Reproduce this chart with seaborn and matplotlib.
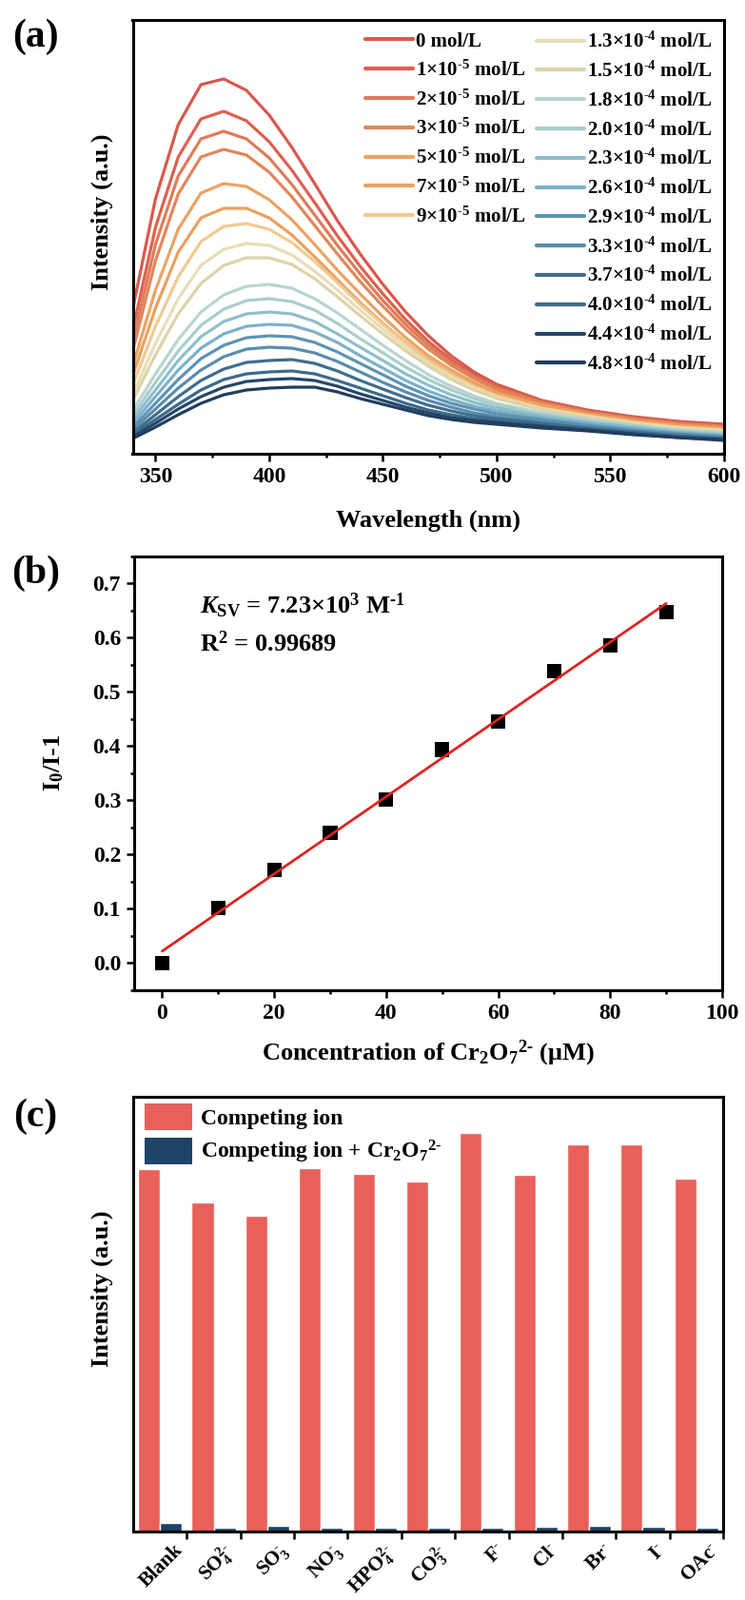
import numpy as np
import pandas as pd
import matplotlib
matplotlib.use("Agg")
import matplotlib.pyplot as plt
import seaborn as sns
from matplotlib.ticker import MultipleLocator, FormatStrFormatter
from matplotlib.patches import Patch

HY = r"\text{-}"  # short hyphen inside superscripts, as in the reference

# ---------------- data: panel (a) ----------------
wavelength = [340, 350, 360, 370, 380, 390, 400, 410, 420, 430, 440, 450,
              460, 470, 480, 490, 500, 520, 540, 560, 580, 600]
conc_labels = ["0 mol/L", "1×10$^{%s5}$ mol/L" % HY, "2×10$^{%s5}$ mol/L" % HY,
               "3×10$^{%s5}$ mol/L" % HY, "5×10$^{%s5}$ mol/L" % HY,
               "7×10$^{%s5}$ mol/L" % HY, "9×10$^{%s5}$ mol/L" % HY,
               "1.3×10$^{%s4}$ mol/L" % HY, "1.5×10$^{%s4}$ mol/L" % HY,
               "1.8×10$^{%s4}$ mol/L" % HY, "2.0×10$^{%s4}$ mol/L" % HY,
               "2.3×10$^{%s4}$ mol/L" % HY, "2.6×10$^{%s4}$ mol/L" % HY,
               "2.9×10$^{%s4}$ mol/L" % HY, "3.3×10$^{%s4}$ mol/L" % HY,
               "3.7×10$^{%s4}$ mol/L" % HY, "4.0×10$^{%s4}$ mol/L" % HY,
               "4.4×10$^{%s4}$ mol/L" % HY, "4.8×10$^{%s4}$ mol/L" % HY]
s00 = [152, 268, 346, 388, 394, 382, 356, 322, 284, 245, 210, 178, 149, 124, 103, 86, 73, 56, 46, 39, 34, 31]
s01 = [130, 238, 312, 352, 360, 350, 328, 298, 264, 229, 197, 168, 141, 118, 99, 83, 71, 55, 45, 38, 33, 30]
s02 = [118, 220, 292, 331, 339, 331, 311, 283, 251, 219, 189, 161, 136, 114, 96, 81, 69, 54, 44, 37, 32, 29]
s03 = [108, 203, 273, 312, 320, 314, 296, 270, 240, 210, 181, 155, 131, 110, 93, 79, 67, 53, 43, 36, 31, 28]
s04 = [92, 172, 236, 274, 284, 281, 267, 246, 220, 193, 168, 144, 122, 103, 88, 75, 64, 51, 42, 35, 30, 27]
s05 = [82, 153, 212, 248, 258, 258, 248, 230, 207, 183, 159, 137, 117, 99, 84, 72, 62, 49, 41, 34, 29, 26]
s06 = [72, 134, 186, 223, 239, 242, 236, 222, 202, 180, 157, 136, 116, 98, 83, 71, 61, 48, 40, 33, 28, 25]
s07 = [62, 116, 163, 198, 215, 221, 219, 209, 192, 172, 151, 131, 112, 95, 81, 69, 59, 47, 39, 32, 27, 24]
s08 = [56, 104, 147, 179, 198, 206, 206, 199, 184, 165, 145, 126, 108, 92, 78, 67, 58, 46, 38, 31, 26, 23]
s09 = [45, 84, 120, 149, 167, 176, 178, 174, 163, 148, 131, 114, 98, 83, 71, 61, 53, 43, 36, 30, 25, 22]
s10 = [40, 75, 108, 135, 152, 161, 163, 160, 151, 137, 121, 106, 91, 78, 67, 58, 51, 41, 35, 29, 24, 21]
s11 = [36, 67, 98, 123, 139, 147, 149, 147, 139, 126, 112, 98, 84, 72, 62, 54, 48, 40, 33, 28, 23, 20]
s12 = [32, 60, 88, 111, 126, 134, 136, 135, 128, 117, 103, 90, 77, 66, 57, 50, 45, 38, 32, 27, 22, 19]
s13 = [28, 53, 78, 100, 114, 122, 124, 123, 117, 107, 95, 83, 71, 61, 53, 47, 42, 36, 30, 25, 21, 18]
s14 = [25, 47, 69, 88, 102, 110, 112, 111, 106, 97, 86, 75, 65, 56, 49, 43, 39, 34, 29, 24, 20, 17]
s15 = [22, 41, 60, 77, 89, 96, 98, 99, 95, 87, 77, 68, 59, 51, 45, 40, 37, 32, 27, 23, 19, 16]
s16 = [20, 36, 52, 67, 78, 84, 86, 87, 84, 77, 69, 61, 53, 46, 41, 37, 35, 30, 26, 22, 18, 16]
s17 = [18, 32, 47, 60, 70, 76, 78, 79, 77, 71, 63, 56, 49, 43, 38, 35, 33, 29, 25, 21, 17, 15]
s18 = [16, 28, 41, 53, 62, 67, 69, 70, 70, 65, 58, 52, 46, 40, 36, 33, 31, 27, 24, 20, 17, 14]
spectra = [s00, s01, s02, s03, s04, s05, s06, s07, s08, s09,
           s10, s11, s12, s13, s14, s15, s16, s17, s18]
line_colors = ["#D9584C", "#DC6050", "#E07B57", "#E2865A", "#EDA262", "#EBA05F",
               "#F2C98F", "#E8DDB5", "#DDD3A7", "#B7D5D0", "#A9CDCA", "#8DBECC",
               "#7BB1CA", "#5C93B3", "#5A8CAD", "#3F6D8E", "#3C6A8A", "#25466A",
               "#213D5E"]

# ---------------- data: panel (b) ----------------
conc_uM = [0, 10, 20, 30, 40, 50, 60, 70, 80, 90]
quench_ratio = [0.0, 0.102, 0.172, 0.240, 0.302, 0.394, 0.445, 0.538, 0.586, 0.648]

# ---------------- data: panel (c) ----------------
ions = ["Blank", "SO$_4^{2%s}$" % HY, "SO$_3^{%s}$" % HY, "NO$_3^{%s}$" % HY,
        "HPO$_4^{2%s}$" % HY, "CO$_3^{2%s}$" % HY, "F$^{%s}$" % HY, "Cl$^{%s}$" % HY,
        "Br$^{%s}$" % HY, "I$^{%s}$" % HY, "OAc$^{%s}$" % HY]
competing = [381, 346, 332, 382, 376, 368, 419, 375, 407, 407, 371]
competing_cr = [9, 4, 6, 4, 4, 4, 4, 5, 6, 5, 4]
series_names = ["Competing ion", "Competing ion + Cr$_2$O$_7$$^{2%s}$" % HY]
bar_colors = ["#E8605A", "#1E4468"]

# ---------------- style ----------------
sns.set_theme(style="ticks")
plt.rcParams.update({
    "font.family": ["Liberation Serif", "DejaVu Serif"],
    "font.weight": "bold",
    "axes.labelweight": "bold",
    "mathtext.fontset": "custom",
    "mathtext.rm": "Liberation Serif:bold",
    "mathtext.it": "Liberation Serif:italic:bold",
    "mathtext.bf": "Liberation Serif:bold",
    "mathtext.default": "rm",
    "axes.linewidth": 2.2,
    "xtick.major.width": 1.8, "ytick.major.width": 1.8,
    "xtick.minor.width": 1.8, "ytick.minor.width": 1.8,
    "xtick.major.size": 6, "ytick.major.size": 6,
    "xtick.minor.size": 3.2, "ytick.minor.size": 3.2,
    "xtick.color": "black", "ytick.color": "black",
    "axes.edgecolor": "black", "text.color": "black", "axes.labelcolor": "black",
})

W, H = 783, 1682
fig = plt.figure(figsize=(W / 100, H / 100), dpi=100)


def px_axes(l, t, r, b):
    return fig.add_axes([l / W, 1 - b / H, (r - l) / W, (b - t) / H])


TICK_FS = 17
LABEL_FS = 19

# ---------------- panel (a) ----------------
axa = px_axes(139.5, 21, 761, 477)
rows = []
for lab, vals in zip(conc_labels, spectra):
    for w, v in zip(wavelength, vals):
        rows.append({"wl": w, "I": v, "conc": lab})
dfa = pd.DataFrame(rows)
sns.lineplot(data=dfa, x="wl", y="I", hue="conc", hue_order=conc_labels,
             palette=line_colors, estimator=None, sort=False, lw=2.3,
             legend=False, ax=axa)
axa.set_xlim(340, 600)
axa.set_ylim(0, 456)
axa.set_yticks([])
axa.xaxis.set_major_locator(MultipleLocator(50))
axa.xaxis.set_minor_locator(MultipleLocator(25))
axa.tick_params(axis="x", which="both", direction="out", labelsize=TICK_FS, pad=4)
axa.set_xlabel("Wavelength (nm)", fontsize=LABEL_FS)
axa.set_ylabel("Intensity (a.u.)", fontsize=LABEL_FS)
axa.xaxis.set_label_coords(0.5, -0.155)
axa.yaxis.set_label_coords(-0.052, 0.557)
axa.yaxis.label.set_va("center")
axa.xaxis.label.set_va("center")

lines = axa.get_lines()
leg1 = axa.legend(lines[:7], conc_labels[:7], loc="upper left",
                  bbox_to_anchor=(0.393, 0.972), frameon=False, fontsize=15,
                  handlelength=2.4, handletextpad=0.15, labelspacing=0.46,
                  borderpad=0, borderaxespad=0)
for h in leg1.get_lines():
    h.set_linewidth(3)
axa.add_artist(leg1)
leg2 = axa.legend(lines[7:], conc_labels[7:], loc="upper left",
                  bbox_to_anchor=(0.683, 0.972), frameon=False, fontsize=15,
                  handlelength=2.4, handletextpad=0.15, labelspacing=0.46,
                  borderpad=0, borderaxespad=0)
for h in leg2.get_lines():
    h.set_linewidth(3)

# ---------------- panel (b) ----------------
axb = px_axes(141, 585, 759, 1041)
sns.regplot(x=conc_uM, y=quench_ratio, ci=None, ax=axb, marker="s",
            scatter_kws={"s": 120, "color": "black", "alpha": 1,
                         "edgecolors": "none", "zorder": 2},
            line_kws={"color": "#E0231E", "lw": 2.0, "zorder": 3})
axb.set_xlim(-5, 100)
axb.set_ylim(-0.05, 0.75)
axb.xaxis.set_major_locator(MultipleLocator(20))
axb.xaxis.set_minor_locator(MultipleLocator(10))
axb.yaxis.set_major_locator(MultipleLocator(0.1))
axb.yaxis.set_minor_locator(MultipleLocator(0.05))
axb.yaxis.set_major_formatter(FormatStrFormatter("%.1f"))
axb.tick_params(axis="both", which="both", direction="out", labelsize=TICK_FS, pad=4)
axb.set_xlabel("Concentration of Cr$_2$O$_7$$^{2%s}$ (μM)" % HY, fontsize=LABEL_FS)
axb.set_ylabel("I$_0$/I-1", fontsize=LABEL_FS)
axb.xaxis.set_label_coords(0.5, -0.145)
axb.yaxis.set_label_coords(-0.137, 0.524)
axb.yaxis.label.set_va("center")
axb.xaxis.label.set_va("center")
axb.text(0.112, 0.886, "$\\mathit{K}_{\\mathrm{SV}}$ = 7.23×10$^{3}$ M$^{%s1}$" % HY,
         transform=axb.transAxes, fontsize=19, va="center", ha="left")
axb.text(0.112, 0.800, "R$^{2}$ = 0.99689", transform=axb.transAxes,
         fontsize=19, va="center", ha="left")

# ---------------- panel (c) ----------------
axc = px_axes(140, 1153, 760, 1610)
dfc = pd.DataFrame({
    "ion": ions * 2,
    "val": competing + competing_cr,
    "kind": [series_names[0]] * len(ions) + [series_names[1]] * len(ions),
})
sns.barplot(data=dfc, x="ion", y="val", hue="kind", order=ions,
            hue_order=series_names, palette=bar_colors, saturation=1,
            width=0.82, gap=0, legend=False, ax=axc)
axc.set_xlim(-0.5, 10.5)
axc.set_ylim(0, 457)
axc.set_yticks([])
axc.set_xticks(np.arange(len(ions)) + 0.5)
axc.set_xticklabels(ions, rotation=45, ha="right")
axc.tick_params(axis="x", which="both", direction="out", labelsize=15.5, pad=0.5)
axc.set_xlabel("")
axc.set_ylabel("Intensity (a.u.)", fontsize=LABEL_FS)
axc.yaxis.set_label_coords(-0.053, 0.558)
axc.yaxis.label.set_va("center")
handles = [Patch(facecolor=c, edgecolor="none") for c in bar_colors]
axc.legend(handles, series_names, loc="upper left", bbox_to_anchor=(0.02, 0.985),
           frameon=False, fontsize=17, handlelength=2.1, handleheight=1.45,
           handletextpad=0.4, labelspacing=0.35, borderpad=0, borderaxespad=0)

for ax in (axa, axb, axc):
    for sp in ax.spines.values():
        sp.set_visible(True)
        sp.set_linewidth(2.2)
        sp.set_color("black")
    ax.tick_params(axis="both", which="both", top=False, right=False)
    ax.grid(False)

# panel letters
fig.text(37 / W, 1 - 39 / H, "(a)", fontsize=30, ha="center", va="center")
fig.text(38 / W, 1 - 603 / H, "(b)", fontsize=30, ha="center", va="center")
fig.text(37 / W, 1 - 1174 / H, "(c)", fontsize=30, ha="center", va="center")

fig.savefig("out.png", dpi=100)
